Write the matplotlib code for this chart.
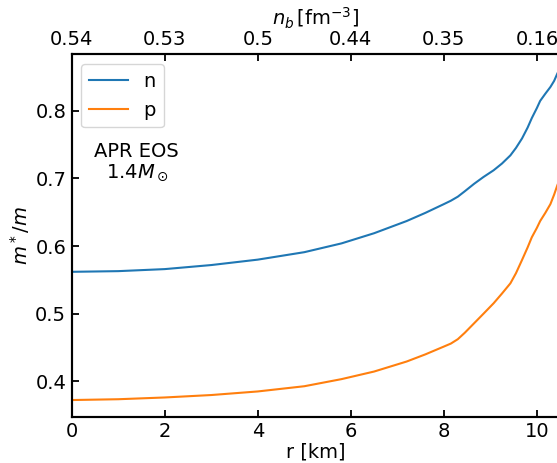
import matplotlib

matplotlib.use("Agg")
import matplotlib.pyplot as plt

# effective masses, r in km
r = [0.0, 1.0, 2.0, 3.0, 4.0, 5.0, 5.8, 6.5, 7.2, 7.6, 8.0, 8.15, 8.3, 8.45,
     8.65, 8.85, 9.07, 9.25, 9.43, 9.55, 9.68, 9.8, 9.89, 10.0, 10.07, 10.18,
     10.29, 10.37, 10.44, 10.5]
m_n = [0.562, 0.563, 0.566, 0.572, 0.580, 0.591, 0.604, 0.619, 0.637, 0.649,
       0.662, 0.667, 0.673, 0.681, 0.692, 0.702, 0.712, 0.722, 0.734, 0.745,
       0.759, 0.775, 0.789, 0.804, 0.8145, 0.825, 0.835, 0.844, 0.855, 0.863]
m_p = [0.3726, 0.3738, 0.3764, 0.380, 0.3853, 0.393, 0.4035, 0.4147, 0.4295,
       0.440, 0.4516, 0.456, 0.4625, 0.472, 0.486, 0.500, 0.5156, 0.530,
       0.545, 0.560, 0.5795, 0.598, 0.613, 0.627, 0.637, 0.649, 0.662, 0.676,
       0.690, 0.700]

top_ticks = [0, 2, 4, 6, 8, 10]
top_labels = ["0.54", "0.53", "0.5", "0.44", "0.35", "0.16"]

FS = 14
plt.rcParams["font.size"] = FS
plt.rcParams["mathtext.fontset"] = "dejavusans"

fig = plt.figure(figsize=(5.57, 4.63), dpi=100)
ax = fig.add_axes([0.1287, 0.1, 0.877, 0.7823])

ax.plot(r, m_n, color="#1f77b4", lw=1.5, label="n")
ax.plot(r, m_p, color="#ff7f0e", lw=1.5, label="p")

ax.set_xlim(0, 10.5)
ax.set_ylim(0.348, 0.883)
ax.set_yticks([0.4, 0.5, 0.6, 0.7, 0.8])
ax.set_yticklabels(["0.4", "0.5", "0.6", "0.7", "0.8"])
ax.set_xticks([0, 2, 4, 6, 8, 10])
ax.tick_params(direction="in", length=5, width=1.3, labelsize=FS, pad=4)
ax.set_xlabel("r [km]", fontsize=FS, labelpad=1)
ax.set_ylabel(r"$m^*/m$", fontsize=FS, labelpad=2)
for s in ax.spines.values():
    s.set_linewidth(1.5)

ax.legend(loc="upper left", fontsize=FS, handlelength=2.0, borderaxespad=0.5)
ax.text(1.4, 0.724, "APR EOS\n" + r"$1.4M_\odot$", ha="center", va="center",
        multialignment="center", fontsize=FS, linespacing=1.1)

top = ax.twiny()
top.set_xlim(ax.get_xlim())
top.set_xticks(top_ticks)
top.set_xticklabels(top_labels)
top.tick_params(direction="in", length=5, width=1.3, labelsize=FS, pad=4)
top.set_xlabel(r"$n_b\,[\mathrm{fm}^{-3}]$", fontsize=FS, labelpad=3)
for s in top.spines.values():
    s.set_linewidth(1.5)

fig.savefig("out.png", dpi=100, facecolor="white")
